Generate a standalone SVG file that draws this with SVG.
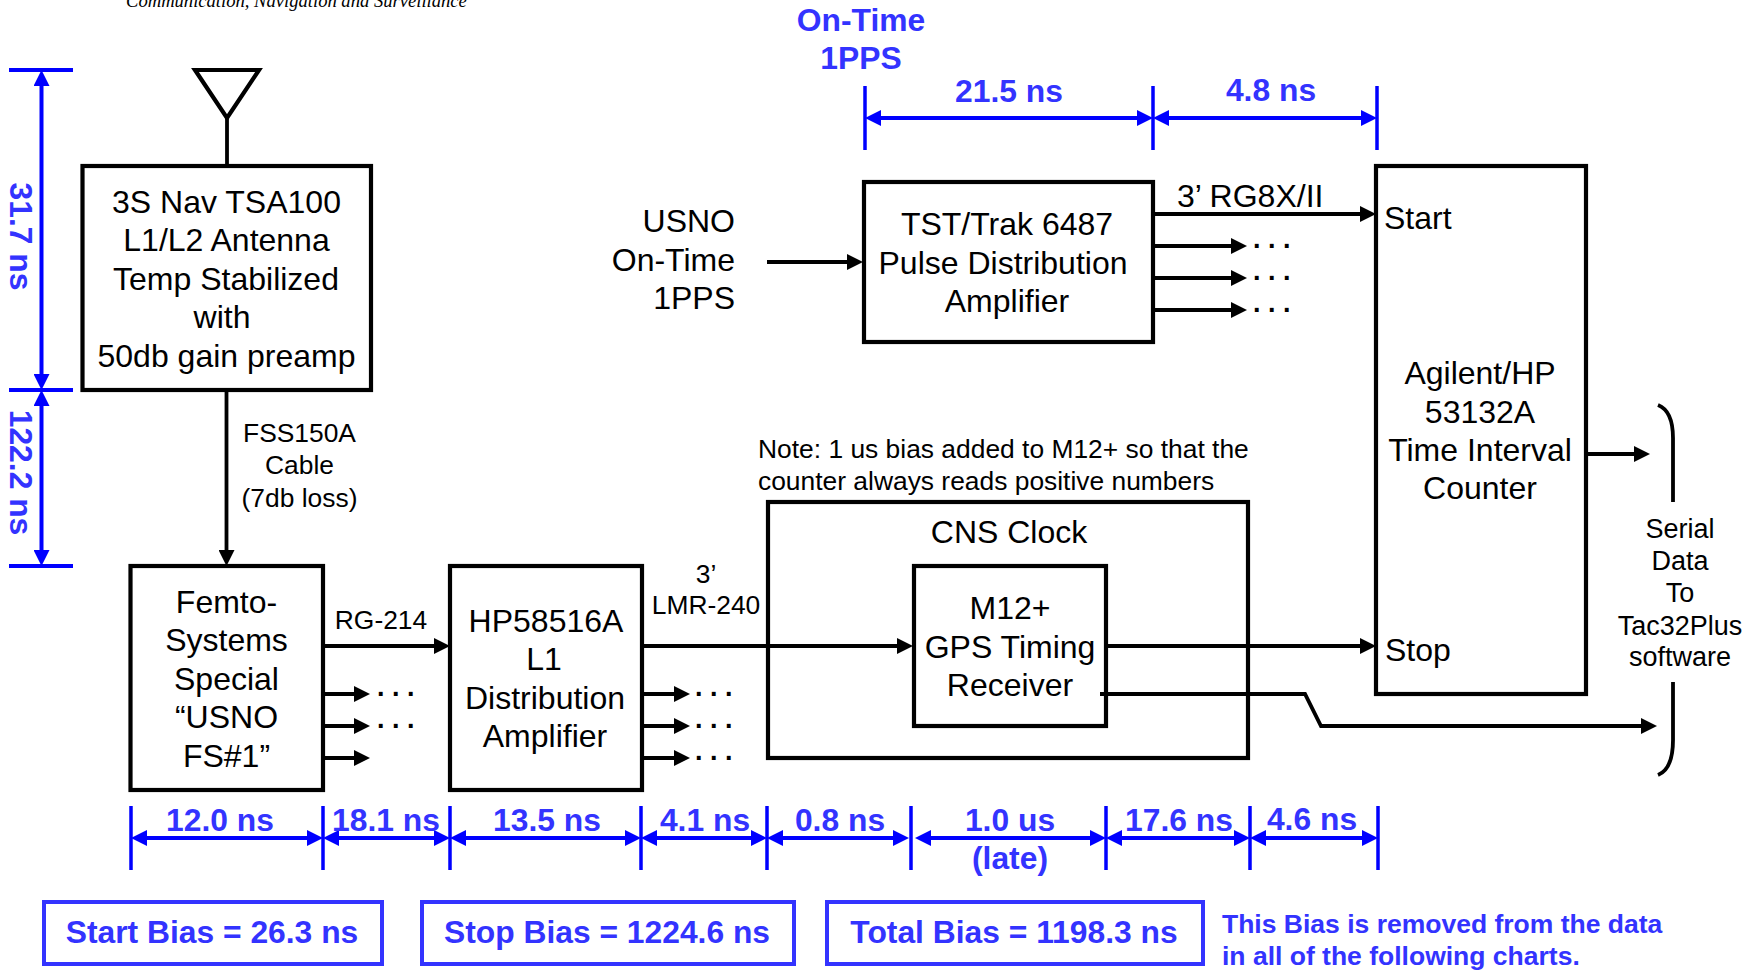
<svg xmlns="http://www.w3.org/2000/svg" width="1760" height="970" viewBox="0 0 1760 970">
<style>
text{font-family:"Liberation Sans",Arial,sans-serif;fill:#000}
.t{font-size:32px;text-anchor:middle}
.l{font-size:32px}
.s{font-size:26.400px;text-anchor:middle}
.z{font-size:27px;text-anchor:middle}
.m{font-size:26.400px}
.p{font-size:27px;font-weight:bold}
.b{font-size:31.800px;font-weight:bold;fill:#3333ff;text-anchor:middle}
.n{font-size:26.500px;font-weight:bold;fill:#3333ff}
.box{fill:#fff;stroke:#000;stroke-width:4.200}
.bias{fill:#fff;stroke:#3333ff;stroke-width:4}
.w{fill:none;stroke:#000;stroke-width:3.800}
.a{marker-end:url(#ah)}
.d{fill:none;stroke:#0000ff;stroke-width:4;marker-start:url(#bh);marker-end:url(#bh)}
.tick{fill:none;stroke:#0000ff;stroke-width:3.500}
</style>
<defs>
<marker id="ah" markerUnits="userSpaceOnUse" markerWidth="16" markerHeight="16" refX="8" refY="8" orient="auto"><path d="M0 0L16 8L0 16Z" fill="#000"/></marker>
<marker id="bh" markerUnits="userSpaceOnUse" markerWidth="16" markerHeight="16" refX="8" refY="8" orient="auto-start-reverse"><path d="M0 0L16 8L0 16Z" fill="#0000ff"/></marker>
</defs>

<text x="126" y="7" style="font-family:'Liberation Serif',serif;font-style:italic;font-size:18.600px">Communication, Navigation and Surveillance</text>

<g id="cns-clock"><rect class="box" x="768" y="502" width="480" height="256"/><text class="t" x="1009" y="543">CNS Clock</text></g>
<g id="antenna"><path d="M195 70H259L227 118Z" fill="#fff" stroke="#000" stroke-width="4.200"/></g>
<g id="antenna-box"><rect class="box" x="82.500" y="166" width="288.500" height="224"/>
<text class="t" x="226.500" y="213">3S Nav TSA100</text>
<text class="t" x="226.500" y="251">L1/L2 Antenna</text>
<text class="t" x="226" y="290">Temp Stabilized</text>
<text class="t" x="222" y="328">with</text>
<text class="t" x="226.500" y="367">50db gain preamp</text></g>
<g id="femto"><rect class="box" x="130.500" y="566" width="192.500" height="224"/>
<text class="t" x="226.500" y="613">Femto-</text>
<text class="t" x="226.500" y="651">Systems</text>
<text class="t" x="226.500" y="690">Special</text>
<text class="t" x="226.500" y="728">“USNO</text>
<text class="t" x="226.500" y="767">FS#1”</text></g>
<g id="hp"><rect class="box" x="450" y="566" width="192" height="224"/>
<text class="t" x="546" y="632">HP58516A</text>
<text class="t" x="544" y="670">L1</text>
<text class="t" x="545" y="709">Distribution</text>
<text class="t" x="545" y="747">Amplifier</text></g>
<g id="m12"><rect class="box" x="914" y="566" width="192" height="160"/>
<text class="t" x="1010" y="619">M12+</text>
<text class="t" x="1010" y="658">GPS Timing</text>
<text class="t" x="1010" y="696">Receiver</text></g>
<g id="tst"><rect class="box" x="864" y="182" width="289" height="160"/>
<text class="t" x="1007" y="235">TST/Trak 6487</text>
<text class="t" x="1003" y="274">Pulse Distribution</text>
<text class="t" x="1007" y="312">Amplifier</text></g>
<g id="counter"><rect class="box" x="1376" y="166" width="210" height="528"/>
<text class="l" x="1384" y="229">Start</text>
<text class="t" x="1480" y="384">Agilent/HP</text>
<text class="t" x="1480" y="423">53132A</text>
<text class="t" x="1480" y="461">Time Interval</text>
<text class="t" x="1480" y="499">Counter</text>
<text class="l" x="1385" y="661">Stop</text></g>

<g id="connectors">
<path class="w" d="M227 118V166"/>
<path class="w a" d="M226.500 390V558"/>
<path class="w a" d="M767 262H855"/>
<path class="w a" d="M1153 214H1368"/>
<path class="w a" d="M1153 246H1239"/>
<path class="w a" d="M1153 278H1239"/>
<path class="w a" d="M1153 310H1239"/>
<path class="w a" d="M323 646H442"/>
<path class="w a" d="M323 694H362"/>
<path class="w a" d="M323 726H362"/>
<path class="w a" d="M323 758H362"/>
<path class="w a" d="M642 646H905"/>
<path class="w a" d="M642 694H682"/>
<path class="w a" d="M642 726H682"/>
<path class="w a" d="M642 758H682"/>
<path class="w a" d="M1106 646H1368"/>
<path class="w a" d="M1100 694H1305L1321 726H1649"/>
<path class="w a" d="M1588 454H1642"/>
<path class="w" d="M1658 405C1668 409 1673 420 1673 438V502"/>
<path class="w" d="M1673 682V740C1673 760 1668 771 1658 775"/>
</g>

<g id="labels">
<text class="l" x="735" y="232" text-anchor="end">USNO</text>
<text class="l" x="735" y="271" text-anchor="end">On-Time</text>
<text class="l" x="735" y="309" text-anchor="end">1PPS</text>
<text class="l" x="1177" y="207">3’ RG8X/II</text>
<text class="s" x="299.500" y="442">FSS150A</text>
<text class="s" x="299.500" y="474">Cable</text>
<text class="s" x="299.500" y="507">(7db loss)</text>
<text class="s" x="381" y="629">RG-214</text>
<text class="s" x="706" y="583">3’</text>
<text class="s" x="706" y="614">LMR-240</text>
<text class="m" x="758" y="458">Note: 1 us bias added to M12+ so that the</text>
<text class="m" x="758" y="490">counter always reads positive numbers</text>
<text class="z" x="1680" y="538">Serial</text>
<text class="z" x="1680" y="570">Data</text>
<text class="z" x="1680" y="602">To</text>
<text class="z" x="1680" y="635">Tac32Plus</text>
<text class="z" x="1680" y="666">software</text>
<text class="p" x="1253 1268 1283" y="248">...</text>
<text class="p" x="1253 1268 1283" y="280">...</text>
<text class="p" x="1253 1268 1283" y="312">...</text>
<text class="p" x="377 392 407" y="696">...</text>
<text class="p" x="377 392 407" y="728">...</text>
<text class="p" x="695 710 725" y="696">...</text>
<text class="p" x="695 710 725" y="728">...</text>
<text class="p" x="695 710 725" y="760">...</text>
</g>

<g id="dimensions">
<path class="tick" d="M9 70H73M9 390H73M9 566H73" style="stroke-width:4"/>
<path class="d" d="M41.500 78V382"/>
<path class="d" d="M41.500 398V558"/>
<path class="tick" d="M865 86V150M1153 86V150M1377 86V150"/>
<path class="d" d="M873 118H1145"/>
<path class="d" d="M1161 118H1369"/>
<path class="tick" d="M131 806V870M323 806V870M450 806V870M641 806V870M767 806V870M911 806V870M1106 806V870M1250 806V870M1378 806V870"/>
<path class="d" d="M139 838H315"/>
<path class="d" d="M331 838H442"/>
<path class="d" d="M458 838H633"/>
<path class="d" d="M649 838H759"/>
<path class="d" d="M775 838H901"/>
<path class="d" d="M923 838H1098"/>
<path class="d" d="M1114 838H1242"/>
<path class="d" d="M1258 838H1370"/>
<text class="b" transform="translate(10 236.500) rotate(90)">31.7 ns</text>
<text class="b" transform="translate(10 472.500) rotate(90)">122.2 ns</text>
<text class="b" x="861" y="31">On-Time</text>
<text class="b" x="861" y="69">1PPS</text>
<text class="b" x="1009" y="102">21.5 ns</text>
<text class="b" x="1271" y="101">4.8 ns</text>
<text class="b" x="220" y="831">12.0 ns</text>
<text class="b" x="386" y="831">18.1 ns</text>
<text class="b" x="547" y="831">13.5 ns</text>
<text class="b" x="705" y="831">4.1 ns</text>
<text class="b" x="840" y="831">0.8 ns</text>
<text class="b" x="1010" y="831">1.0 us</text>
<text class="b" x="1010" y="869">(late)</text>
<text class="b" x="1179" y="831">17.6 ns</text>
<text class="b" x="1312" y="830">4.6 ns</text>
</g>

<g id="start-bias"><rect class="bias" x="44" y="902" width="338" height="62"/><text class="b" x="212" y="943">Start Bias = 26.3 ns</text></g>
<g id="stop-bias"><rect class="bias" x="422" y="902" width="372" height="62"/><text class="b" x="607" y="943">Stop Bias = 1224.6 ns</text></g>
<g id="total-bias"><rect class="bias" x="827" y="902" width="376" height="62"/><text class="b" x="1014" y="943">Total Bias = 1198.3 ns</text></g>
<text class="n" x="1222" y="933">This Bias is removed from the data</text>
<text class="n" x="1222" y="965">in all of the following charts.</text>
</svg>
